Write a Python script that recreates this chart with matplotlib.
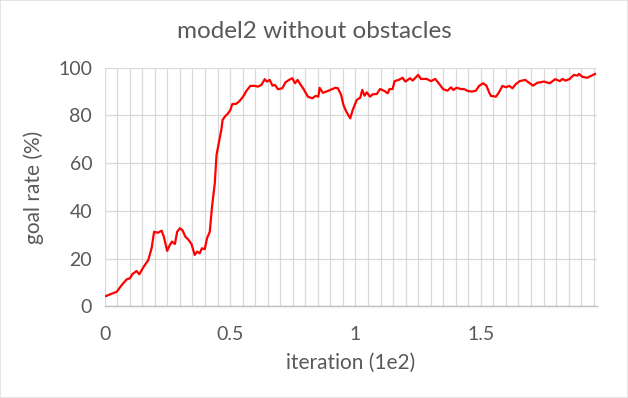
import numpy as np
import matplotlib
matplotlib.use('Agg')
from matplotlib import pyplot as plt
from matplotlib.patches import Rectangle

# values
iteration = [0.005, 0.048, 0.068, 0.088, 0.10, 0.111, 0.127, 0.138, 0.154, 0.174,
             0.187, 0.197, 0.213, 0.227, 0.236, 0.249, 0.26, 0.268, 0.28, 0.289,
             0.30, 0.31, 0.322, 0.333, 0.346, 0.359, 0.369, 0.379, 0.388, 0.399,
             0.408, 0.419, 0.428, 0.439, 0.446, 0.456, 0.466, 0.47, 0.479, 0.492,
             0.501, 0.509, 0.525, 0.538, 0.552, 0.565, 0.581, 0.598, 0.611, 0.625,
             0.638, 0.647, 0.658, 0.669, 0.679, 0.691, 0.708, 0.721, 0.735, 0.748,
             0.759, 0.769, 0.78, 0.793, 0.81, 0.828, 0.841, 0.852, 0.857, 0.87,
             0.883, 0.899, 0.92, 0.93, 0.943, 0.952, 0.963, 0.979, 0.989, 1.005,
             1.019, 1.027, 1.036, 1.045, 1.058, 1.069, 1.085, 1.098, 1.115, 1.129,
             1.135, 1.148, 1.156, 1.172, 1.188, 1.199, 1.218, 1.228, 1.239, 1.25,
             1.261, 1.284, 1.301, 1.318, 1.332, 1.35, 1.367, 1.381, 1.39, 1.403,
             1.421, 1.434, 1.447, 1.464, 1.48, 1.493, 1.509, 1.522, 1.533, 1.54,
             1.56, 1.57, 1.586, 1.60, 1.613, 1.626, 1.639, 1.655, 1.677, 1.695,
             1.708, 1.725, 1.752, 1.775, 1.796, 1.815, 1.825, 1.838, 1.854, 1.871,
             1.885, 1.891, 1.905, 1.924, 1.942, 1.955]
goal_rate = [4.3, 6.1, 8.9, 11.3, 11.7, 13.5, 14.8, 13.4, 16.3, 19.4,
             24.3, 31.2, 30.8, 31.7, 29.1, 23.2, 25.7, 27.1, 26.1, 31.2,
             32.7, 31.9, 29.1, 28.0, 26.1, 21.5, 22.9, 22.2, 24.3, 23.9,
             28.5, 31.2, 41.7, 51.5, 63.4, 68.9, 74.5, 78.0, 79.4, 80.8,
             82.2, 84.7, 84.8, 86.0, 87.8, 90.2, 92.3, 92.3, 92.0, 92.7,
             95.1, 94.1, 94.8, 92.4, 92.7, 90.9, 91.3, 93.8, 94.8, 95.5,
             93.4, 94.8, 93.0, 91.0, 87.8, 87.1, 88.1, 87.8, 91.5, 89.4,
             89.9, 90.6, 91.5, 91.3, 88.5, 84.3, 81.6, 78.7, 82.2, 86.4,
             87.4, 90.6, 88.2, 89.6, 87.8, 88.8, 88.9, 91.0, 90.2, 89.2,
             90.9, 91.0, 94.3, 94.8, 95.7, 94.1, 95.5, 94.5, 95.7, 96.9,
             95.2, 95.2, 94.3, 95.2, 93.4, 90.9, 90.3, 91.7, 90.6, 91.5,
             91.0, 90.9, 90.2, 89.9, 90.3, 92.3, 93.4, 92.4, 89.6, 88.1,
             87.8, 89.2, 92.3, 91.7, 92.3, 91.3, 93.0, 94.3, 94.8, 93.4,
             92.4, 93.6, 94.1, 93.4, 95.1, 94.3, 95.2, 94.5, 95.2, 96.9,
             96.6, 97.3, 96.1, 95.7, 96.6, 97.3]
x_ticks = [0, 0.5, 1, 1.5]
x_labels = ['0', '0.5', '1', '1.5']
y_ticks = [0, 20, 40, 60, 80, 100]

text_col = '#595959'
grid_col = '#d9d9d9'
plt.rcParams['font.family'] = ['Lato', 'DejaVu Sans']

fig = plt.figure(figsize=(6.28, 3.98), dpi=100)
ax = fig.add_axes([0.1667, 0.2304, 0.7839, 0.6])

# vertical gridlines every 0.05, like the excel category ticks
for gx in np.arange(0, 1.96, 0.05):
    ax.axvline(gx, color=grid_col, lw=0.9, zorder=0)
for gy in y_ticks:
    ax.axhline(gy, color=grid_col, lw=0.9, zorder=0)

ax.plot(iteration, goal_rate, color='#ff0000', lw=1.6, zorder=3)

ax.set_xlim(0, 1.963)
ax.set_ylim(0, 100)
ax.set_xticks(x_ticks)
ax.set_xticklabels(x_labels)
ax.set_yticks(y_ticks)
ax.tick_params(length=0, colors=text_col, labelsize=14)
ax.tick_params(axis='x', pad=14)
ax.tick_params(axis='y', pad=9)
for s in ['top', 'right', 'left']:
    ax.spines[s].set_visible(False)
ax.spines['bottom'].set_color('#bfbfbf')
ax.spines['bottom'].set_linewidth(1.0)

ax.set_xlabel('iteration (1e2)', color=text_col, fontsize=15, labelpad=7)
ax.set_ylabel('goal rate (%)', color=text_col, fontsize=15, labelpad=10)
fig.suptitle('model2 without obstacles', color=text_col, fontsize=17.5, y=0.948)

# light chart border
fig.patches.append(Rectangle((0, 0), 1, 1, transform=fig.transFigure,
                             fill=False, edgecolor='#e0e0e0', lw=1.2))

fig.savefig('out.png', dpi=100)
